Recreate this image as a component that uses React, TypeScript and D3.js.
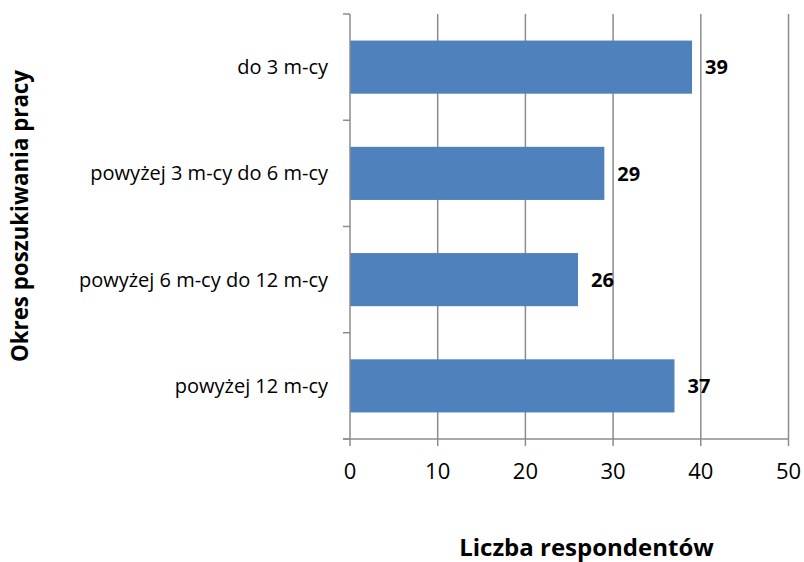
import React from "react";
import * as d3 from "d3";

const categories = ["do 3 m-cy", "powyżej 3 m-cy do 6 m-cy", "powyżej 6 m-cy do 12 m-cy", "powyżej 12 m-cy"];
const values = [39, 29, 26, 37];
const xTicks = [0, 10, 20, 30, 40, 50];
const xTitle = "Liczba respondentów";
const yTitle = "Okres poszukiwania pracy";

const FONT = "'Open Sans', sans-serif";

export default function App() {
  const W = 804, H = 562;
  const x0 = 350, x1 = 788.5, yTop = 14, yBot = 439;
  const x = d3.scaleLinear().domain([0, 50]).range([x0, x1]);
  const y = d3.scaleBand<string>().domain(categories).range([yTop, yBot]).paddingInner(0.5).paddingOuter(0.25);
  const bandEdges = d3.range(categories.length + 1).map((i) => yTop + (i * (yBot - yTop)) / categories.length);
  const grid = "#8c8c8c";
  return (
    <svg width={W} height={H} style={{ position: "absolute", left: 0, top: 0 }} fontFamily={FONT}>
      <rect width={W} height={H} fill="#fff" />
      {xTicks.filter((t) => t > 0).map((t) => (
        <line key={"g" + t} x1={x(t)} x2={x(t)} y1={yTop} y2={yBot} stroke={grid} strokeWidth={1.5} />
      ))}
      {categories.map((c, i) => (
        <rect key={c} x={x(0)} y={y(c)} width={x(values[i]) - x(0)} height={y.bandwidth()} fill="#4F81BD" />
      ))}
      <line x1={x0} x2={x0} y1={yTop} y2={yBot} stroke={grid} strokeWidth={1.5} />
      <line x1={x0 - 7} x2={x1} y1={yBot} y2={yBot} stroke={grid} strokeWidth={1.5} />
      {bandEdges.map((e, i) => (
        <line key={"bt" + i} x1={x0 - 7} x2={x0} y1={e} y2={e} stroke={grid} strokeWidth={1.5} />
      ))}
      {xTicks.map((t) => (
        <g key={"t" + t}>
          <line x1={x(t)} x2={x(t)} y1={yBot} y2={yBot + 7} stroke={grid} strokeWidth={1.5} />
          <text x={x(t)} y={479} textAnchor="middle" fontSize={22} fill="#000">{t}</text>
        </g>
      ))}
      {categories.map((c) => (
        <text key={"l" + c} x={328} y={(y(c) as number) + y.bandwidth() / 2} dy="0.35em" textAnchor="end" fontSize={20} fill="#000">{c}</text>
      ))}
      {categories.map((c, i) => (
        <text key={"v" + c} x={x(values[i]) + 13} y={(y(c) as number) + y.bandwidth() / 2} dy="0.36em" fontSize={20} fontWeight="bold" fill="#000">{values[i]}</text>
      ))}
      <text x={586.5} y={555.5} textAnchor="middle" fontSize={24} fontWeight="bold" fill="#000">{xTitle}</text>
      <text transform={`translate(28,216) rotate(-90)`} textAnchor="middle" fontSize={22.3} fontWeight="bold" fill="#000">{yTitle}</text>
    </svg>
  );
}
